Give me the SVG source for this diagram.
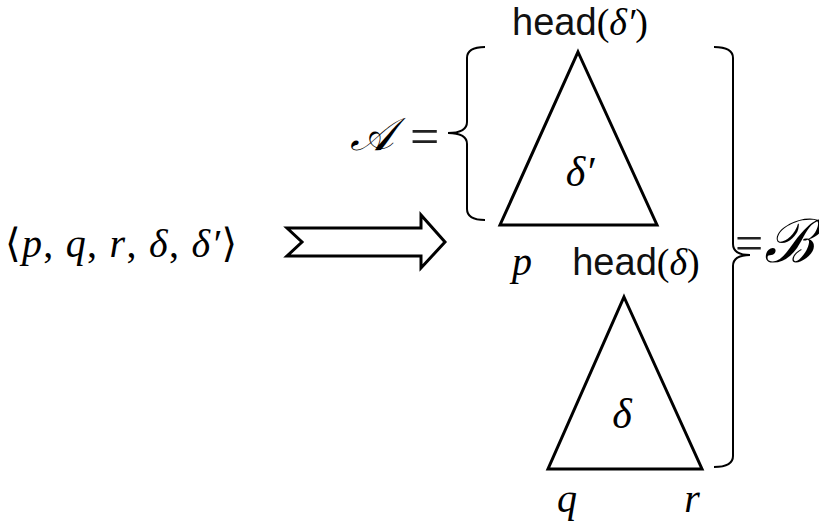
<svg xmlns="http://www.w3.org/2000/svg" width="819" height="525" viewBox="0 0 819 525">
<style>
.ln{fill:none;stroke:#000;stroke-width:3;stroke-linejoin:miter}
.br{fill:none;stroke:#000;stroke-width:2}
.m{font-family:"Liberation Serif","DejaVu Serif",serif;font-style:italic;fill:#000}
.r{font-family:"Liberation Serif","DejaVu Serif",serif;font-style:normal}
.s{font-family:"Liberation Sans","DejaVu Sans",sans-serif;font-style:normal;fill:#111}
.c{font-family:"DejaVu Serif","Liberation Serif",serif;font-style:italic;fill:#000}
</style>
<rect width="819" height="525" fill="#fff"/>
<g id="tuple">
<text x="5" y="257" class="m" font-size="40" textLength="232" lengthAdjust="spacing"><tspan class="r">⟨</tspan>p<tspan class="r">, </tspan>q<tspan class="r">, </tspan>r<tspan class="r">, </tspan>δ<tspan class="r">, </tspan>δ′<tspan class="r">⟩</tspan></text>
</g>
<g id="connectors">
<path class="ln" d="M287,228 L421,228 L421,215 L445,242 L421,268 L421,256 L287,256 L302,242 Z" stroke-width="2.5"/>
</g>
<g id="tree-delta-prime">
<path class="ln" d="M578,52 L657,225 L500,225 Z"/>
<text x="580" y="186" class="m" font-size="42" text-anchor="middle">δ′</text>
<text x="580" y="35" font-size="38" text-anchor="middle"><tspan class="s">head</tspan><tspan class="r">(</tspan><tspan class="m">δ′</tspan><tspan class="r">)</tspan></text>
</g>
<g id="tree-delta">
<path class="ln" d="M624,297 L702,469 L548,469 Z"/>
<text x="622" y="428" class="m" font-size="42" text-anchor="middle">δ</text>
<text x="522" y="275" class="m" font-size="40" text-anchor="middle">p</text>
<text x="636" y="275" font-size="38" text-anchor="middle"><tspan class="s">head</tspan><tspan class="r">(</tspan><tspan class="m">δ</tspan><tspan class="r">)</tspan></text>
<text x="567" y="512" class="m" font-size="40" text-anchor="middle">q</text>
<text x="692" y="512" class="m" font-size="40" text-anchor="middle">r</text>
</g>
<g id="brace-A">
<path class="br" d="M485,47 Q467,47 467,58 L467,122 Q467,133 448,133 Q467,133 467,144 L467,209 Q467,220 485,220"/>
<text x="372" y="150" class="c" font-size="46" text-anchor="middle">𝒜</text>
<text x="410" y="154" class="r" font-size="52" fill="#222">=</text>
</g>
<g id="brace-B">
<path class="br" d="M714,47 Q733,47 733,58 L733,244 Q733,255 750,255 Q733,255 733,266 L733,456 Q733,467 714,467"/>
<text x="735" y="260" class="r" font-size="50" fill="#222">=</text>
<text x="789" y="262" class="c" font-size="60" text-anchor="middle">ℬ</text>
</g>
</svg>
